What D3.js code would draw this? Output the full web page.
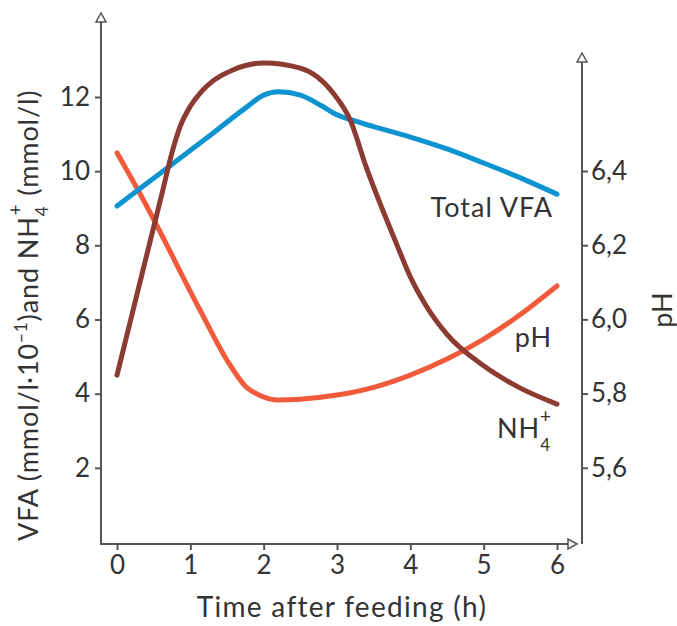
<!DOCTYPE html>
<html>
<head>
<meta charset="utf-8">
<script src="https://cdn.jsdelivr.net/npm/d3@7"></script>
<style>
  body { margin: 0; background: #fff; }
  text { font-family: Lato, "Open Sans", sans-serif; fill: #333; }
</style>
</head>
<body>
<div id="chart"></div>
<script>
// time after feeding (h)
var hours = [0, 1, 2, 3, 4, 5, 6];
var leftTicks = [2, 4, 6, 8, 10, 12];
var rightTicks = [5.6, 5.8, 6.0, 6.2, 6.4];

// Total VFA (mmol/l * 10^-1)
var vfaTime  = [0, 0.6, 1.2, 1.75, 2, 2.2, 2.5, 2.8, 3, 3.2, 3.5, 4, 4.5, 5, 5.5, 6];
var vfaValue = [9.06, 9.96, 10.86, 11.7, 12.05, 12.14, 12.05, 11.75, 11.52, 11.38, 11.2, 10.92, 10.6, 10.22, 9.82, 9.38];

// NH4+ (mmol/l)
var nh4Time  = [0, 0.35, 0.62, 0.75, 0.86, 1.0, 1.13, 1.3, 1.58, 2, 2.5, 2.95, 3.18, 3.4, 3.82, 4, 4.2, 4.5, 5, 5.5, 6];
var nh4Value = [4.5, 7.3, 9.45, 10.5, 11.2, 11.75, 12.1, 12.42, 12.73, 12.92, 12.78, 12.1, 11.38, 10.1, 8.0, 7.15, 6.42, 5.6, 4.75, 4.15, 3.72];

// pH
var phTime  = [0, 0.36, 1.13, 1.5, 1.75, 1.95, 2.2, 2.5, 3, 3.5, 4, 4.5, 5, 5.5, 6];
var phValue = [6.449, 6.322, 6.026, 5.89, 5.82, 5.795, 5.783, 5.785, 5.796, 5.817, 5.85, 5.893, 5.947, 6.013, 6.09];

var svg = d3.select("#chart").append("svg")
  .attr("width", 677)
  .attr("height", 626);

var x = d3.scaleLinear().domain([0, 6]).range([117, 557]);
var yL = d3.scaleLinear().domain([0, 12]).range([542, 97]);
var yR = d3.scaleLinear().domain([5.4, 6.4]).range([542, 171]);

var axisColor = "#555";
var xLeft = 101, xRight = 582, yBottom = 544;

// axis lines with hollow arrow heads
svg.append("line").attr("x1", xLeft).attr("x2", xLeft).attr("y1", yBottom + 1).attr("y2", 22)
  .attr("stroke", axisColor).attr("stroke-width", 2);
svg.append("path").attr("d", "M" + xLeft + ",13 L" + (xLeft - 5) + ",22 L" + (xLeft + 5) + ",22 Z")
  .attr("fill", "#fff").attr("stroke", axisColor).attr("stroke-width", 1.5);

svg.append("line").attr("x1", xLeft).attr("x2", 568).attr("y1", yBottom).attr("y2", yBottom)
  .attr("stroke", axisColor).attr("stroke-width", 2);
svg.append("path").attr("d", "M577," + yBottom + " L568," + (yBottom - 5) + " L568," + (yBottom + 5) + " Z")
  .attr("fill", "#fff").attr("stroke", axisColor).attr("stroke-width", 1.5);

svg.append("line").attr("x1", xRight).attr("x2", xRight).attr("y1", yBottom).attr("y2", 62)
  .attr("stroke", axisColor).attr("stroke-width", 2);
svg.append("path").attr("d", "M" + xRight + ",53 L" + (xRight - 5) + ",62 L" + (xRight + 5) + ",62 Z")
  .attr("fill", "#fff").attr("stroke", axisColor).attr("stroke-width", 1.5);

// axes (ticks + labels)
var xAxis = svg.append("g").attr("transform", "translate(0," + yBottom + ")")
  .call(d3.axisBottom(x).tickValues(hours).tickSize(6).tickPadding(6).tickFormat(d3.format("d")));
var lAxis = svg.append("g").attr("transform", "translate(" + xLeft + ",0)")
  .call(d3.axisLeft(yL).tickValues(leftTicks).tickSize(6).tickPadding(5).tickFormat(d3.format("d")));
var rAxis = svg.append("g").attr("transform", "translate(" + xRight + ",0)")
  .call(d3.axisRight(yR).tickValues(rightTicks).tickSize(6).tickPadding(3)
    .tickFormat(function(d) { return d3.format(".1f")(d).replace(".", ","); }));

[xAxis, lAxis, rAxis].forEach(function(g) {
  g.select(".domain").remove();
  g.selectAll(".tick line").attr("stroke", axisColor).attr("stroke-width", 2);
  g.selectAll(".tick text").attr("font-size", 26).attr("fill", "#333")
    .style("font-family", "Lato, sans-serif");
});

// series lines
function drawLine(ts, vs, scale, color) {
  var pts = ts.map(function(t, i) { return [t, vs[i]]; });
  var line = d3.line()
    .x(function(d) { return x(d[0]); })
    .y(function(d) { return scale(d[1]); })
    .curve(d3.curveMonotoneX);
  svg.append("path").datum(pts)
    .attr("d", line)
    .attr("fill", "none")
    .attr("stroke", color)
    .attr("stroke-width", 5)
    .attr("stroke-linecap", "round");
}
drawLine(phTime, phValue, yR, "#f15a3b");
drawLine(vfaTime, vfaValue, yL, "#0d93d0");
drawLine(nh4Time, nh4Value, yL, "#8c3b33");

// series labels
svg.append("text").attr("x", 553).attr("y", 217).attr("text-anchor", "end")
  .attr("font-size", 27).attr("letter-spacing", 1).text("Total VFA");
svg.append("text").attr("x", 552).attr("y", 347).attr("text-anchor", "end")
  .attr("font-size", 27).attr("letter-spacing", 1).text("pH");
var nh = svg.append("text").attr("x", 497).attr("y", 438).attr("font-size", 27).attr("letter-spacing", 1);
nh.append("tspan").text("NH");
nh.append("tspan").attr("font-size", 17).attr("dy", 13).text("4");
nh.append("tspan").attr("font-size", 19).attr("dx", -11).attr("dy", -28).text("+");

// axis titles
svg.append("text").attr("x", 342).attr("y", 617).attr("text-anchor", "middle")
  .attr("font-size", 28).attr("letter-spacing", 1.3).text("Time after feeding (h)");

var yt = svg.append("text").attr("transform", "translate(38,541) rotate(-90)")
  .attr("font-size", 27).attr("letter-spacing", 0.9);
yt.append("tspan").text("VFA (mmol/l\u00b710");
yt.append("tspan").attr("font-size", 17).attr("dy", -11).text("\u22121");
yt.append("tspan").attr("dy", 11).text(")and NH");
yt.append("tspan").attr("font-size", 17).attr("dy", 10).text("4");
yt.append("tspan").attr("font-size", 19).attr("dx", -10).attr("dy", -26).text("+");
yt.append("tspan").attr("dy", 16).text(" (mmol/l)");

svg.append("text").attr("transform", "translate(672,310) rotate(-90)")
  .attr("text-anchor", "middle").attr("font-size", 27).text("pH");
</script>
</body>
</html>
